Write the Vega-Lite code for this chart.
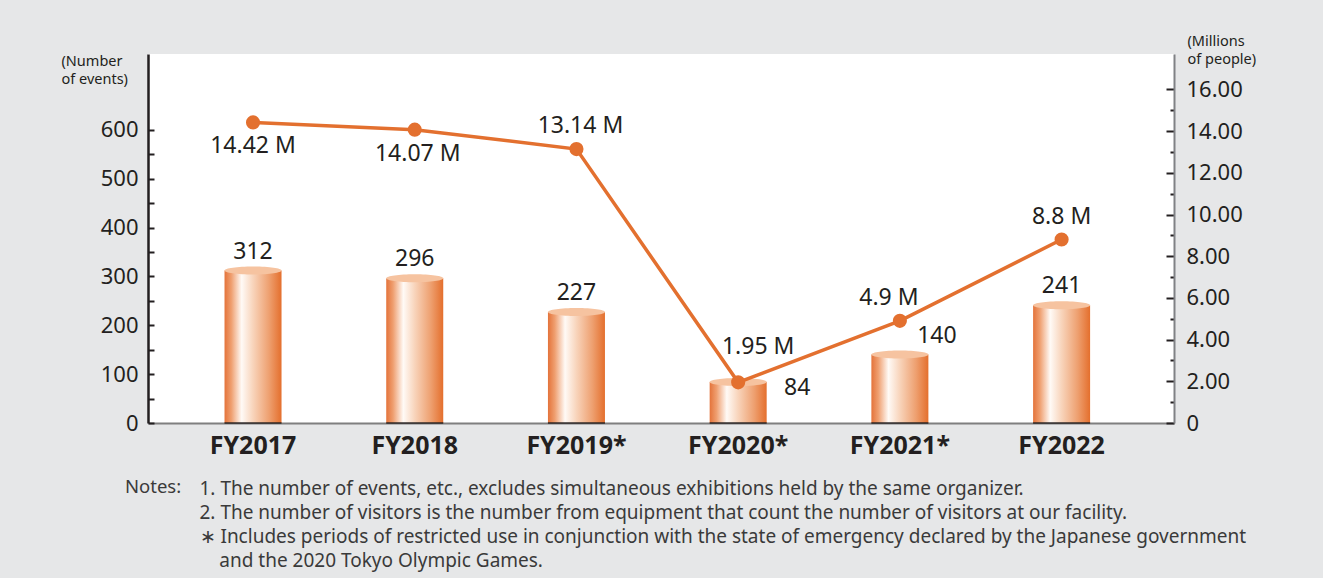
{
  "$schema": "https://vega.github.io/schema/vega-lite/v6.json",
  "width": 1026,
  "height": 369,
  "autosize": {"type": "none"},
  "padding": {"left": 148, "top": 54, "right": 149, "bottom": 155},
  "background": "#e6e7e8",
  "config": {
    "view": {"fill": "white", "stroke": null},
    "font": "Noto Sans"
  },
  "data": {
    "values": [
      {"fy": "FY2017", "events": 312, "visitors": 14.42, "vlabel": "14.42 M"},
      {"fy": "FY2018", "events": 296, "visitors": 14.07, "vlabel": "14.07 M"},
      {"fy": "FY2019*", "events": 227, "visitors": 13.14, "vlabel": "13.14 M"},
      {"fy": "FY2020*", "events": 84, "visitors": 1.95, "vlabel": "1.95 M"},
      {"fy": "FY2021*", "events": 140, "visitors": 4.9, "vlabel": "4.9 M"},
      {"fy": "FY2022", "events": 241, "visitors": 8.8, "vlabel": "8.8 M"}
    ]
  },
  "title": {
    "text": "Notes:",
    "orient": "bottom",
    "anchor": "start",
    "frame": "group",
    "dx": -23,
    "offset": -77,
    "baseline": "alphabetic",
    "fontSize": 18.5,
    "fontWeight": "normal",
    "color": "#3a3a3a"
  },
  "encoding": {
    "x": {
      "field": "fy",
      "type": "nominal",
      "sort": null,
      "scale": {"paddingInner": 0.6475, "paddingOuter": 0.496, "align": 0.477},
      "axis": {
        "labelAngle": 0,
        "labelFontSize": 25,
        "labelFontWeight": "bold",
        "labelColor": "#231f20",
        "labelPadding": 10,
        "ticks": false,
        "domainColor": "#7f7f7f",
        "domainWidth": 2,
        "title": [
          "1. The number of events, etc., excludes simultaneous exhibitions held by the same organizer.",
          "2. The number of visitors is the number from equipment that count the number of visitors at our facility.",
          "∗ Includes periods of restricted use in conjunction with the state of emergency declared by the Japanese government",
          "\u200b\u00a0\u00a0\u00a0\u00a0and the 2020 Tokyo Olympic Games."
        ],
        "titleX": 51,
        "titleY": 71,
        "titleAlign": "left",
        "titleAnchor": "start",
        "titleBaseline": "alphabetic",
        "titleFontSize": 19,
        "titleFontWeight": "normal",
        "titleColor": "#3a3a3a",
        "titleLineHeight": 24
      }
    }
  },
  "layer": [
    {
      "encoding": {
        "y": {
          "field": "events",
          "type": "quantitative",
          "scale": {"domain": [0, 755], "nice": false},
          "axis": {
            "orient": "left",
            "values": [0, 50, 100, 150, 200, 250, 300, 350, 400, 450, 500, 550, 600],
            "labelExpr": "datum.value % 100 === 0 ? datum.label : ''",
            "grid": false,
            "tickSize": -6,
            "tickWidth": 2,
            "tickColor": "#231f20",
            "domainColor": "#231f20",
            "domainWidth": 2.5,
            "labelPadding": 16,
            "labelFontSize": 22,
            "labelColor": "#231f20",
            "title": ["(Number", "of events)"],
            "titleAngle": 0,
            "titleAlign": "left",
            "titleBaseline": "alphabetic",
            "titleX": -87,
            "titleY": 11,
            "titleFontSize": 14.5,
            "titleFontWeight": "normal",
            "titleColor": "#231f20",
            "titleLineHeight": 18
          }
        }
      },
      "layer": [
        {
          "mark": {
            "type": "bar",
            "color": {
              "gradient": "linear",
              "x1": 0, "y1": 0, "x2": 1, "y2": 0,
              "stops": [
                {"offset": 0, "color": "#e4733a"},
                {"offset": 0.12, "color": "#ef9f70"},
                {"offset": 0.3, "color": "#fffaf6"},
                {"offset": 0.5, "color": "#f8d4bb"},
                {"offset": 0.78, "color": "#eea070"},
                {"offset": 1, "color": "#e46f2d"}
              ]
            }
          }
        },
        {
          "mark": {
            "type": "point",
            "shape": "M -1 0 A 1 0.14 0 1 0 1 0 A 1 0.14 0 1 0 -1 0 Z",
            "size": 3249,
            "filled": true,
            "color": "#f6c3a0",
            "opacity": 1
          }
        },
        {
          "mark": {"type": "tick", "color": "#231f20", "thickness": 2, "size": 57, "orient": "horizontal"},
          "encoding": {"y": {"datum": 0}}
        },
        {
          "mark": {
            "type": "text",
            "fontSize": 23,
            "color": "#231f20",
            "baseline": "alphabetic",
            "dx": {"expr": "datum.fy === 'FY2020*' ? 59 : datum.fy === 'FY2021*' ? 37 : 0"},
            "dy": {"expr": "datum.fy === 'FY2020*' ? 13 : -12"}
          },
          "encoding": {"text": {"field": "events", "type": "quantitative"}}
        }
      ]
    },
    {
      "encoding": {
        "y": {
          "field": "visitors",
          "type": "quantitative",
          "scale": {"domain": [0, 17.7], "nice": false},
          "axis": {
            "orient": "right",
            "values": [0, 1, 2, 3, 4, 5, 6, 7, 8, 9, 10, 11, 12, 13, 14, 15, 16],
            "labelExpr": "datum.value % 2 === 0 ? (datum.value === 0 ? '0' : format(datum.value, '.2f')) : ''",
            "grid": false,
            "tickSize": -8,
            "tickWidth": 2,
            "tickColor": "#231f20",
            "tickDash": {"condition": {"test": "datum.value % 2 !== 0", "value": [4, 20]}, "value": [10, 0]},
            "domainColor": "#808285",
            "domainWidth": 2,
            "labelPadding": 20,
            "labelFontSize": 22,
            "labelColor": "#231f20",
            "title": ["(Millions", "of people)"],
            "titleAngle": 0,
            "titleAlign": "left",
            "titleBaseline": "alphabetic",
            "titleX": 13,
            "titleY": -9,
            "titleFontSize": 14.5,
            "titleFontWeight": "normal",
            "titleColor": "#231f20",
            "titleLineHeight": 18
          }
        }
      },
      "layer": [
        {"mark": {"type": "line", "color": "#e3702f", "strokeWidth": 3.5}},
        {"mark": {"type": "point", "filled": true, "size": 200, "color": "#e3702f", "opacity": 1}},
        {
          "mark": {
            "type": "text",
            "fontSize": 23,
            "color": "#231f20",
            "baseline": "alphabetic",
            "dx": {"expr": "datum.fy === 'FY2020*' ? 20 : datum.fy === 'FY2021*' ? -11 : datum.fy === 'FY2019*' ? 4 : datum.fy === 'FY2018' ? 3 : 0"},
            "dy": {"expr": "datum.fy === 'FY2017' || datum.fy === 'FY2018' ? 31 : datum.fy === 'FY2020*' ? -28 : -16"}
          },
          "encoding": {"text": {"field": "vlabel", "type": "nominal"}}
        }
      ]
    }
  ],
  "resolve": {"scale": {"y": "independent"}}
}
